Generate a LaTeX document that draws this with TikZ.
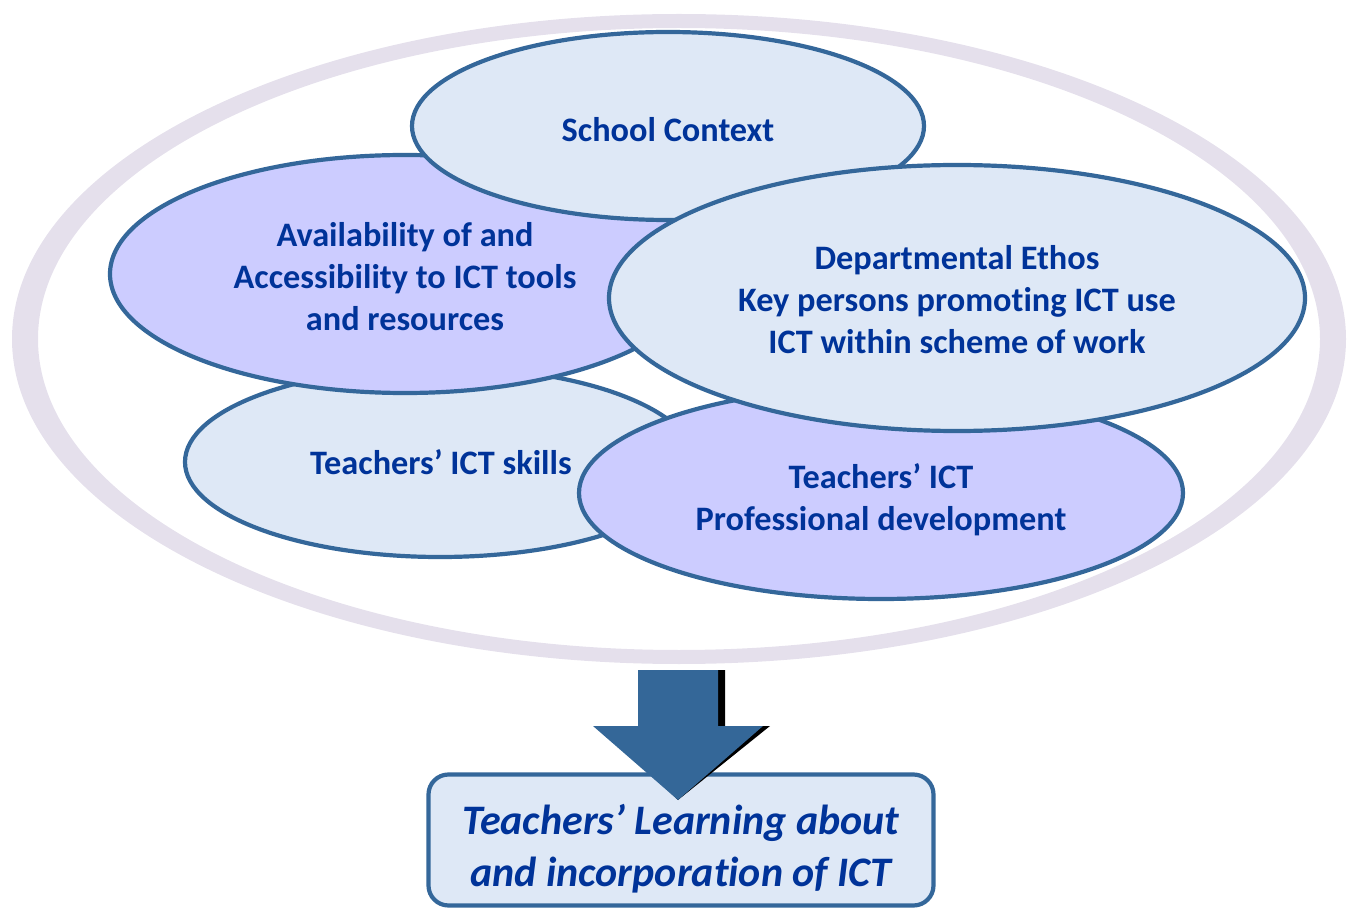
\documentclass[tikz,border=0pt]{standalone}
\usepackage{fontspec}
\setmainfont{Carlito}[Ligatures=NoCommon]
\usetikzlibrary{shapes.geometric}
\definecolor{ringc}{RGB}{229,224,236}
\definecolor{edgec}{RGB}{52,103,154}
\definecolor{lightf}{RGB}{222,232,246}
\definecolor{purpf}{RGB}{204,204,255}
\definecolor{txtc}{RGB}{0,51,153}
\definecolor{arrowc}{RGB}{52,103,152}
\begin{document}
\begin{tikzpicture}[x=1pt,y=-1pt,
  blob/.style={ellipse, draw=edgec, line width=4.2pt, inner sep=0pt},
  lightblob/.style={blob, fill=lightf},
  purpblob/.style={blob, fill=purpf},
  blobtxt/.style={text=txtc, align=center, inner sep=0pt,
    font=\fontsize{34.3}{42}\selectfont\bfseries},
  boxstyle/.style={draw=edgec, line width=4.2pt, fill=lightf,
    rounded corners=20pt, inner sep=0pt},
  boxtxt/.style={text=txtc, align=center,
    font=\fontsize{42}{52}\selectfont\bfseries\itshape}]
\useasboundingbox (0,0) rectangle (1353,909);
% outer ring
\fill[ringc, even odd rule]
  (679,339) ellipse [x radius=667pt, y radius=325pt]
  (679,339) ellipse [x radius=641pt, y radius=311pt];
% ellipses in stacking order
\node (skills) [lightblob, minimum width=510pt, minimum height=190pt] at (440,462) {};
\node (skillstxt) [blobtxt] at (441,462) {Teachers’ ICT skills};
\node (avail) [purpblob, minimum width=590pt, minimum height=238pt] at (405,274) {};
\node (availtxt) [blobtxt] at (405,277)
  {Availability of and\\Accessibility to ICT tools\\and resources};
\node (school) [lightblob, minimum width=512pt, minimum height=188pt] at (668,126) {};
\node (schooltxt) [blobtxt] at (668,130) {School Context};
\node (prof) [purpblob, minimum width=604pt, minimum height=212pt] at (881,493) {};
\node (proftxt) [blobtxt] at (881,500) {Teachers’ ICT\\Professional development};
\node (dept) [lightblob, minimum width=696pt, minimum height=266pt] at (957,298) {};
\node (depttxt) [blobtxt] at (957,300)
  {Departmental Ethos\\Key persons promoting ICT use\\ICT within scheme of work};
% outcome box
\node (box) [boxstyle, minimum width=505pt, minimum height=131pt] at (681,840) {};
\node (boxtext) [boxtxt] at (681,849)
  {Teachers’ Learning about\\and incorporation of ICT};
% block arrow with shadow
\coordinate (tip) at (678,800);
\fill[black, xshift=7pt]
  (638,670) -- (718,670) -- (718,726) -- (763,726) -- (tip)
  -- (593,726) -- (638,726) -- cycle;
\fill[arrowc]
  (638,670) -- (718,670) -- (718,726) -- (763,726) -- (tip)
  -- (593,726) -- (638,726) -- cycle;
\end{tikzpicture}
\end{document}
